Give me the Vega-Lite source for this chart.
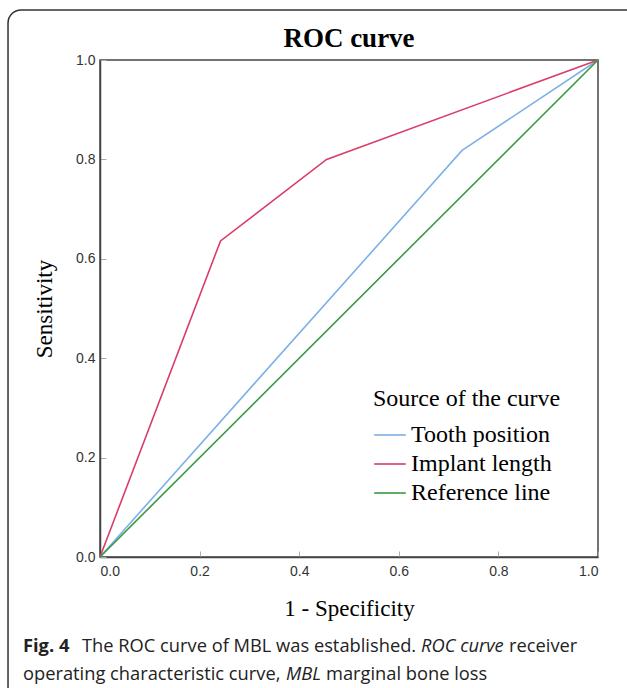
{
  "$schema": "https://vega.github.io/schema/vega-lite/v6.json",
  "autosize": "none",
  "width": 498,
  "height": 497,
  "padding": {"left": 100, "top": 60, "right": 29, "bottom": 131},
  "background": "white",
  "title": {"text": "ROC curve", "font": "Liberation Serif", "fontSize": 27, "fontWeight": "bold", "color": "#000", "offset": -44, "anchor": "middle", "frame": "group"},
  "config": {
    "view": {"stroke": "#444", "strokeWidth": 1.5},
    "axis": {"grid": false, "domainColor": "#444", "domainWidth": 1.5, "tickColor": "#aaa", "tickSize": -6, "labelFont": "Liberation Sans", "labelFontSize": 14, "labelColor": "#333", "titleFont": "Liberation Serif", "titleFontSize": 23, "titleFontWeight": "normal", "titleColor": "#000"}
  },
  "layer": [
    {
      "data": {"values": [
        {"series": "Tooth position", "fpr": 0, "tpr": 0},
        {"series": "Tooth position", "fpr": 0.727, "tpr": 0.818},
        {"series": "Tooth position", "fpr": 1, "tpr": 1},
        {"series": "Implant length", "fpr": 0, "tpr": 0},
        {"series": "Implant length", "fpr": 0.242, "tpr": 0.636},
        {"series": "Implant length", "fpr": 0.455, "tpr": 0.8},
        {"series": "Implant length", "fpr": 1, "tpr": 1},
        {"series": "Reference line", "fpr": 0, "tpr": 0},
        {"series": "Reference line", "fpr": 1, "tpr": 1}
      ]},
      "mark": {"type": "line", "strokeWidth": 1.6},
      "encoding": {
        "x": {"field": "fpr", "type": "quantitative", "scale": {"domain": [0, 1], "nice": false}, "axis": {"title": "1 - Specificity", "values": [0, 0.2, 0.4, 0.6, 0.8, 1], "format": ".1f", "labelPadding": 13, "titlePadding": 19}},
        "y": {"field": "tpr", "type": "quantitative", "scale": {"domain": [0, 1], "nice": false}, "axis": {"title": "Sensitivity", "values": [0, 0.2, 0.4, 0.6, 0.8, 1], "format": ".1f", "labelPadding": 11, "titlePadding": 19}},
        "color": {"field": "series", "type": "nominal", "sort": null,
          "scale": {"domain": ["Tooth position", "Implant length", "Reference line"], "range": ["#7eb0e8", "#d93d68", "#3a9a44"]},
          "legend": {"title": "Source of the curve", "orient": "none", "legendX": 273, "legendY": 327, "symbolType": "stroke", "symbolSize": 1000, "symbolStrokeWidth": 1.6, "titleFont": "Liberation Serif", "titleFontSize": 24, "titleFontWeight": "normal", "titleColor": "#000", "titlePadding": 7, "titleLimit": 400, "labelLimit": 400, "labelFont": "Liberation Serif", "labelFontSize": 24, "labelColor": "#000", "rowPadding": -4, "labelOffset": 4}
        },
        "order": {"field": "fpr", "type": "quantitative"}
      }
    },
    {
      "data": {"values": [{}]},
      "mark": {"type": "rect", "fill": "transparent", "stroke": "#333", "strokeWidth": 1.5, "cornerRadius": 13, "clip": false},
      "encoding": {
        "x": {"datum": -0.1847, "type": "quantitative"},
        "x2": {"datum": 1.1245},
        "y": {"datum": 1.1006, "type": "quantitative"},
        "y2": {"datum": -0.3}
      }
    },
    {
      "data": {"values": [{"t": "Fig. 4"}]},
      "mark": {"type": "text", "align": "left", "baseline": "alphabetic", "font": "Open Sans", "fontSize": 18.3, "fontWeight": "bold", "color": "#222"},
      "encoding": {"text": {"field": "t"}, "x": {"datum": -0.1546, "type": "quantitative"}, "y": {"datum": -0.1911, "type": "quantitative"}}
    },
    {
      "data": {"values": [{"t": "The ROC curve of MBL was established."}]},
      "mark": {"type": "text", "align": "left", "baseline": "alphabetic", "font": "Open Sans", "fontSize": 18.3, "color": "#222"},
      "encoding": {"text": {"field": "t"}, "x": {"datum": -0.0361, "type": "quantitative"}, "y": {"datum": -0.1911, "type": "quantitative"}}
    },
    {
      "data": {"values": [{"t": "ROC curve"}]},
      "mark": {"type": "text", "align": "left", "baseline": "alphabetic", "font": "Open Sans", "fontSize": 18.3, "fontStyle": "italic", "color": "#222"},
      "encoding": {"text": {"field": "t"}, "x": {"datum": 0.6446, "type": "quantitative"}, "y": {"datum": -0.1911, "type": "quantitative"}}
    },
    {
      "data": {"values": [{"t": "receiver"}]},
      "mark": {"type": "text", "align": "left", "baseline": "alphabetic", "font": "Open Sans", "fontSize": 18.3, "color": "#222"},
      "encoding": {"text": {"field": "t"}, "x": {"datum": 0.8213, "type": "quantitative"}, "y": {"datum": -0.1911, "type": "quantitative"}}
    },
    {
      "data": {"values": [{"t": "operating characteristic curve,"}]},
      "mark": {"type": "text", "align": "left", "baseline": "alphabetic", "font": "Open Sans", "fontSize": 18.3, "color": "#222"},
      "encoding": {"text": {"field": "t"}, "x": {"datum": -0.1546, "type": "quantitative"}, "y": {"datum": -0.2475, "type": "quantitative"}}
    },
    {
      "data": {"values": [{"t": "MBL"}]},
      "mark": {"type": "text", "align": "left", "baseline": "alphabetic", "font": "Open Sans", "fontSize": 18.3, "fontStyle": "italic", "color": "#222"},
      "encoding": {"text": {"field": "t"}, "x": {"datum": 0.3735, "type": "quantitative"}, "y": {"datum": -0.2475, "type": "quantitative"}}
    },
    {
      "data": {"values": [{"t": "marginal bone loss"}]},
      "mark": {"type": "text", "align": "left", "baseline": "alphabetic", "font": "Open Sans", "fontSize": 18.3, "color": "#222"},
      "encoding": {"text": {"field": "t"}, "x": {"datum": 0.4538, "type": "quantitative"}, "y": {"datum": -0.2475, "type": "quantitative"}}
    }
  ]
}
